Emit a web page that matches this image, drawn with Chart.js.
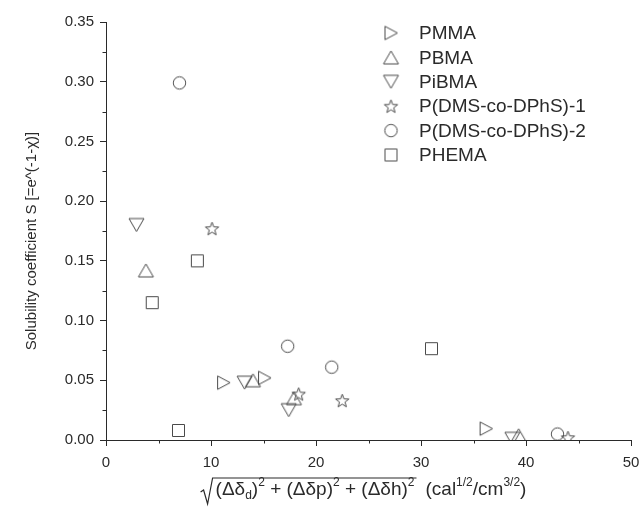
<!DOCTYPE html>
<html>
<head>
<meta charset="utf-8">
<script src="https://cdn.jsdelivr.net/npm/chart.js@4.4.0/dist/chart.umd.min.js"></script>
<style>
  html, body { margin: 0; padding: 0; background: #fff; }
  #wrap { width: 642px; height: 511px; position: relative; }
</style>
</head>
<body>
<div id="wrap"><canvas id="chart"></canvas></div>
<script>
// series names and values
const seriesNames = ['PMMA', 'PBMA', 'PiBMA', 'P(DMS-co-DPhS)-1', 'P(DMS-co-DPhS)-2', 'PHEMA'];
const pmmaX = [11.2, 15.1, 36.2];
const pmmaY = [0.048, 0.052, 0.0095];
const pbmaX = [3.8, 14.0, 17.9, 39.3];
const pbmaY = [0.142, 0.050, 0.035, 0.004];
const pibmaX = [2.9, 13.2, 17.4, 38.7];
const pibmaY = [0.180, 0.048, 0.025, 0.001];
const dms1X = [10.1, 18.35, 22.5, 44.0];
const dms1Y = [0.177, 0.0385, 0.033, 0.002];
const dms2X = [7.0, 17.3, 21.5, 43.0];
const dms2Y = [0.299, 0.0785, 0.061, 0.005];
const phemaX = [4.4, 8.7, 6.9, 31.0];
const phemaY = [0.115, 0.150, 0.008, 0.0765];

const xTicks = [0, 10, 20, 30, 40, 50];
const xMinor = [5, 15, 25, 35, 45];
const yTicks = [0, 0.05, 0.10, 0.15, 0.20, 0.25, 0.30, 0.35];
const yMinor = [0.025, 0.075, 0.125, 0.175, 0.225, 0.275, 0.325];

const yTitle = 'Solubility coefficient S [=e^(-1-\u03C7)]';
// radicand and units of the x title: [text, 0 normal / 1 sub / 2 sup]
const xTitleRoot = [['(\u0394\u03B4', 0], ['d', 1], [')', 0], ['2', 2], [' + (\u0394\u03B4p)', 0], ['2', 2], [' + (\u0394\u03B4h)', 0], ['2', 2]];
const xTitleUnit = [['(cal', 0], ['1/2', 2], ['/cm', 0], ['3/2', 2], [')', 0]];

const FONT = '"Liberation Sans", Arial, Helvetica, sans-serif';
const INK = '#2a2a2a';
const MARK = '#4a4a4a';

function toPoints(xs, ys) {
  return xs.map((x, i) => ({ x: x, y: ys[i] }));
}

// hollow markers drawn on small canvases, used as pointStyle
function makeMarker(kind) {
  const c = document.createElement('canvas');
  c.width = 19; c.height = 19;
  const g = c.getContext('2d');
  g.strokeStyle = MARK;
  g.lineWidth = 1;
  g.lineJoin = 'miter';
  g.beginPath();
  const m = 9.5;
  if (kind === 'right') {
    g.moveTo(m - 6, m - 6.7); g.lineTo(m + 6.5, m); g.lineTo(m - 6, m + 6.7); g.closePath();
  } else if (kind === 'up') {
    g.moveTo(m, m - 6.5); g.lineTo(m + 7.5, m + 6.5); g.lineTo(m - 7.5, m + 6.5); g.closePath();
  } else if (kind === 'down') {
    g.moveTo(m - 7.5, m - 6.5); g.lineTo(m + 7.5, m - 6.5); g.lineTo(m, m + 6.5); g.closePath();
  } else if (kind === 'star') {
    for (let i = 0; i < 10; i++) {
      const r = i % 2 === 0 ? 7 : 2.9;
      const a = -Math.PI / 2 + i * Math.PI / 5;
      const px = m + r * Math.cos(a), py = m + 0.6 + r * Math.sin(a);
      if (i === 0) g.moveTo(px, py); else g.lineTo(px, py);
    }
    g.closePath();
  } else if (kind === 'circle') {
    g.arc(m, m, 6.2, 0, Math.PI * 2);
  } else if (kind === 'square') {
    g.rect(m - 6, m - 6, 12, 12);
  }
  g.stroke();
  return c;
}

const markers = ['right', 'up', 'down', 'star', 'circle', 'square'].map(makeMarker);
const seriesX = [pmmaX, pbmaX, pibmaX, dms1X, dms2X, phemaX];
const seriesY = [pmmaY, pbmaY, pibmaY, dms1Y, dms2Y, phemaY];

const datasets = seriesNames.map((name, i) => ({
  label: name,
  data: toPoints(seriesX[i], seriesY[i]),
  pointStyle: markers[i],
  pointRadius: 7,
  showLine: false
}));

// short minor ticks on both axes
const minorTicks = {
  id: 'minorTicks',
  afterDraw(chart) {
    const { ctx, chartArea, scales } = chart;
    ctx.save();
    ctx.strokeStyle = INK;
    ctx.lineWidth = 1;
    ctx.beginPath();
    xMinor.forEach(v => {
      const px = Math.round(scales.x.getPixelForValue(v)) + 0.5;
      ctx.moveTo(px, chartArea.bottom);
      ctx.lineTo(px, chartArea.bottom + 3.5);
    });
    yMinor.forEach(v => {
      const py = Math.round(scales.y.getPixelForValue(v)) + 0.5;
      ctx.moveTo(chartArea.left, py);
      ctx.lineTo(chartArea.left - 3.5, py);
    });
    ctx.stroke();
    ctx.restore();
  }
};

// axis titles: x title with a radical sign, sub- and superscripts
const axisTitles = {
  id: 'axisTitles',
  afterDraw(chart) {
    const { ctx, chartArea } = chart;
    ctx.save();
    ctx.fillStyle = INK;

    // y title, rotated
    ctx.save();
    ctx.translate(32, (chartArea.top + chartArea.bottom) / 2 + 10);
    ctx.rotate(-Math.PI / 2);
    ctx.font = '15px ' + FONT;
    ctx.textAlign = 'center';
    ctx.textBaseline = 'middle';
    ctx.fillText(yTitle, 0, 0);
    ctx.restore();

    const base = chartArea.bottom + 55;
    const fontFor = k => (k === 0 ? '19px ' : '12px ') + FONT;
    const shift = k => (k === 1 ? 4 : k === 2 ? -9 : 0);
    ctx.textBaseline = 'alphabetic';
    ctx.textAlign = 'left';
    const widthOf = parts => parts.reduce((w, p) => { ctx.font = fontFor(p[1]); return w + ctx.measureText(p[0]).width; }, 0);
    const rootW = widthOf(xTitleRoot);
    const unitW = widthOf(xTitleUnit);
    const gap = 11, radW = 15;
    const total = radW + rootW + gap + unitW;
    let x = (chartArea.left + chartArea.right) / 2 - total / 2 - 5;
    ctx.strokeStyle = INK;
    ctx.lineWidth = 1.2;
    ctx.beginPath();
    ctx.moveTo(x, base - 3);
    ctx.lineTo(x + 3, base - 5);
    ctx.lineTo(x + 7, base + 9);
    ctx.lineTo(x + 12, base - 17);
    ctx.lineTo(x + radW + rootW + 2, base - 17);
    ctx.stroke();
    x += radW;
    const drawParts = parts => parts.forEach(p => {
      ctx.font = fontFor(p[1]);
      ctx.fillText(p[0], x, base + shift(p[1]));
      x += ctx.measureText(p[0]).width;
    });
    drawParts(xTitleRoot);
    x += gap;
    drawParts(xTitleUnit);
    ctx.restore();
  }
};

// legend inside the plot, top right
const insideLegend = {
  id: 'insideLegend',
  afterDraw(chart) {
    const { ctx, chartArea } = chart;
    const mx = chartArea.left + 285, tx = chartArea.left + 313;
    ctx.save();
    ctx.font = '19px ' + FONT;
    ctx.fillStyle = INK;
    ctx.textBaseline = 'middle';
    seriesNames.forEach((name, i) => {
      const y = chartArea.top + 11 + i * 24.4;
      const m = markers[i];
      ctx.drawImage(m, mx - m.width / 2, y - m.height / 2);
      ctx.fillText(name, tx, y + 1);
    });
    ctx.restore();
  }
};

new Chart(document.getElementById('chart'), {
  type: 'scatter',
  data: { datasets: datasets },
  options: {
    responsive: true,
    maintainAspectRatio: false,
    animation: false,
    events: [],
    layout: { padding: { left: 19, right: 11, top: 22, bottom: 0 } },
    plugins: {
      legend: { display: false },
      tooltip: { enabled: false },
      title: { display: false }
    },
    scales: {
      x: {
        type: 'linear',
        min: 0,
        max: 50,
        afterBuildTicks: s => { s.ticks = xTicks.map(v => ({ value: v })); },
        afterFit: s => { s.height = 71; s.paddingLeft = 0; s.paddingRight = 0; },
        border: { color: INK, width: 1 },
        grid: { drawOnChartArea: false, drawTicks: true, tickLength: 6, tickColor: INK },
        ticks: { color: INK, font: { family: FONT, size: 15 }, padding: 8, maxRotation: 0,
          callback: v => String(v) }
      },
      y: {
        type: 'linear',
        min: 0,
        max: 0.35,
        afterBuildTicks: s => { s.ticks = yTicks.map(v => ({ value: v })); },
        afterFit: s => { s.width = 87; },
        border: { color: INK, width: 1 },
        grid: { drawOnChartArea: false, drawTicks: true, tickLength: 6, tickColor: INK },
        ticks: { color: INK, font: { family: FONT, size: 15 }, padding: 6,
          callback: v => Number(v).toFixed(2) }
      }
    }
  },
  plugins: [minorTicks, axisTitles, insideLegend]
});
</script>
</body>
</html>
